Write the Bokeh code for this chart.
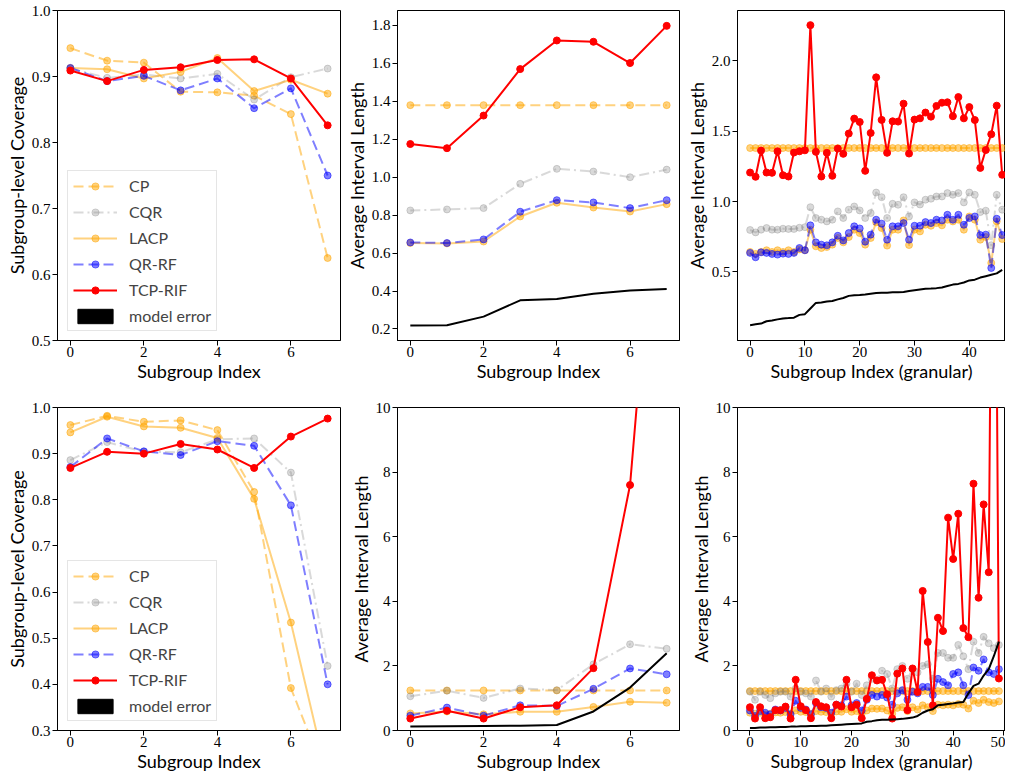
from bokeh.plotting import figure
from bokeh.models import Range1d, FixedTicker, Legend, LegendItem, PrintfTickFormatter
from bokeh.layouts import row, column
from bokeh.embed import file_html
from bokeh.resources import INLINE
from bokeh.core.properties import value

NAN = float("nan")

# ---------------- data ----------------
METHODS = ["CP", "CQR", "LACP", "QR-RF", "TCP-RIF"]
x_sub = [0, 1, 2, 3, 4, 5, 6, 7]

# top-left: subgroup-level coverage (dataset A)
covA_CP = [0.943, 0.924, 0.921, 0.877, 0.876, 0.871, 0.843, 0.625]
covA_CQR = [0.912, 0.898, 0.903, 0.897, 0.904, 0.865, 0.899, 0.912]
covA_LACP = [0.913, 0.911, 0.897, 0.907, 0.928, 0.878, 0.895, 0.874]
covA_QR = [0.913, 0.893, 0.901, 0.879, 0.897, 0.852, 0.882, 0.750]
covA_TCP = [0.909, 0.893, 0.910, 0.914, 0.925, 0.926, 0.897, 0.826]

# top-middle: average interval length (dataset A)
lenA_CP = [1.38, 1.38, 1.38, 1.38, 1.38, 1.38, 1.38, 1.38]
lenA_CQR = [0.825, 0.830, 0.837, 0.965, 1.044, 1.030, 1.000, 1.040]
lenA_LACP = [0.653, 0.651, 0.661, 0.793, 0.865, 0.840, 0.819, 0.858]
lenA_QR = [0.656, 0.653, 0.672, 0.818, 0.879, 0.867, 0.837, 0.879]
lenA_TCP = [1.175, 1.153, 1.325, 1.570, 1.721, 1.714, 1.602, 1.798]
lenA_ERR = [0.218, 0.219, 0.265, 0.351, 0.358, 0.386, 0.402, 0.411]

# top-right: granular subgroups (dataset A), 47 subgroups
x_granA = list(range(47))
granA_CP = [1.38, 1.38, 1.38, 1.38, 1.38, 1.38, 1.38, 1.38, 1.38, 1.38,
            1.38, 1.38, 1.38, 1.38, 1.38, 1.38, 1.38, 1.38, 1.38, 1.38,
            1.38, 1.38, 1.38, 1.38, 1.38, 1.38, 1.38, 1.38, 1.38, 1.38,
            1.38, 1.38, 1.38, 1.38, 1.38, 1.38, 1.38, 1.38, 1.38, 1.38,
            1.38, 1.38, 1.38, 1.38, 1.38, 1.38, 1.38]
granA_CQR = [0.798, 0.781, 0.800, 0.812, 0.800, 0.800, 0.807, 0.805, 0.805, 0.814,
             0.818, 0.960, 0.883, 0.871, 0.859, 0.871, 0.930, 0.883, 0.942, 0.965,
             0.937, 0.883, 0.918, 1.064, 1.031, 0.883, 0.984, 0.977, 1.031, 0.894,
             0.994, 0.979, 1.013, 1.020, 1.036, 1.036, 1.060, 1.048, 1.060, 0.994,
             1.064, 1.048, 0.925, 0.935, 0.690, 1.048, 0.942]
granA_LACP = [0.642, 0.628, 0.642, 0.654, 0.642, 0.654, 0.642, 0.654, 0.642, 0.660,
              0.654, 0.800, 0.682, 0.670, 0.677, 0.694, 0.741, 0.710, 0.748, 0.800,
              0.776, 0.694, 0.741, 0.852, 0.812, 0.687, 0.800, 0.800, 0.866, 0.691,
              0.800, 0.788, 0.835, 0.828, 0.847, 0.831, 0.871, 0.859, 0.871, 0.800,
              0.894, 0.871, 0.729, 0.748, 0.564, 0.859, 0.734]
granA_QR = [0.635, 0.604, 0.639, 0.635, 0.628, 0.623, 0.630, 0.628, 0.635, 0.670,
            0.654, 0.831, 0.710, 0.694, 0.689, 0.710, 0.757, 0.724, 0.776, 0.824,
            0.809, 0.715, 0.765, 0.871, 0.843, 0.729, 0.824, 0.824, 0.847, 0.729,
            0.828, 0.828, 0.854, 0.847, 0.871, 0.866, 0.906, 0.871, 0.906, 0.835,
            0.883, 0.894, 0.762, 0.765, 0.528, 0.878, 0.762]
granA_TCP = [1.206, 1.176, 1.362, 1.206, 1.204, 1.357, 1.187, 1.178, 1.348, 1.357,
             1.364, 2.253, 1.353, 1.178, 1.346, 1.183, 1.376, 1.339, 1.483, 1.589,
             1.565, 1.218, 1.487, 1.882, 1.580, 1.346, 1.570, 1.568, 1.695, 1.341,
             1.582, 1.591, 1.632, 1.603, 1.679, 1.702, 1.705, 1.606, 1.742, 1.591,
             1.671, 1.579, 1.239, 1.366, 1.478, 1.681, 1.190]
granA_ERR = [0.122, 0.128, 0.133, 0.150, 0.155, 0.163, 0.170, 0.172, 0.175, 0.195,
             0.200, 0.240, 0.280, 0.283, 0.290, 0.293, 0.305, 0.315, 0.330, 0.335,
             0.336, 0.340, 0.345, 0.350, 0.352, 0.353, 0.355, 0.356, 0.358, 0.365,
             0.370, 0.375, 0.380, 0.382, 0.385, 0.390, 0.400, 0.410, 0.415, 0.425,
             0.440, 0.445, 0.460, 0.470, 0.480, 0.490, 0.515]

# bottom-left: subgroup-level coverage (dataset B)
covB_CP = [0.962, 0.982, 0.969, 0.972, 0.951, 0.817, 0.392, 0.190]
covB_CQR = [0.886, 0.925, 0.904, 0.903, 0.931, 0.933, 0.859, 0.440]
covB_LACP = [0.946, 0.980, 0.959, 0.956, 0.934, 0.802, 0.534, 0.195]
covB_QR = [0.871, 0.933, 0.905, 0.897, 0.927, 0.917, 0.788, 0.400]
covB_TCP = [0.869, 0.904, 0.900, 0.921, 0.909, 0.869, 0.937, 0.976]

# bottom-middle: average interval length (dataset B)
lenB_CP = [1.24, 1.24, 1.24, 1.24, 1.24, 1.24, 1.24, 1.24]
lenB_CQR = [1.06, 1.23, 1.01, 1.30, 1.25, 2.05, 2.67, 2.53]
lenB_LACP = [0.53, 0.59, 0.50, 0.58, 0.58, 0.73, 0.89, 0.86]
lenB_QR = [0.46, 0.71, 0.46, 0.78, 0.76, 1.29, 1.92, 1.74]
lenB_TCP = [0.37, 0.61, 0.37, 0.72, 0.78, 1.93, 7.60, 21.0]
lenB_ERR = [0.12, 0.13, 0.14, 0.15, 0.17, 0.59, 1.33, 2.39]

# bottom-right: granular subgroups (dataset B), 50 subgroups
x_granB = list(range(50))
granB_CP = [1.22, 1.22, 1.22, 1.22, 1.22, 1.22, 1.22, 1.22, 1.22, 1.22,
            1.22, 1.22, 1.22, 1.22, 1.22, 1.22, 1.22, 1.22, 1.22, 1.22,
            1.22, 1.22, 1.22, 1.22, 1.22, 1.22, 1.22, 1.22, 1.22, 1.22,
            1.22, 1.22, 1.22, 1.22, 1.22, 1.22, 1.22, 1.22, 1.22, 1.22,
            1.22, 1.22, 1.22, 1.22, 1.22, 1.22, 1.22, 1.22, 1.22, 1.22]
granB_CQR = [1.20, 0.95, 1.20, 1.10, 1.00, 1.15, 1.20, 1.20, 1.05, 1.30,
             1.20, 1.15, 1.05, 1.55, 1.20, 1.30, 1.05, 1.25, 1.30, 1.45,
             1.20, 1.45, 1.10, 1.40, 1.60, 1.55, 1.85, 1.75, 1.30, 1.90,
             2.00, 1.60, 1.90, 1.80, 2.00, 2.05, 1.60, 2.40, 2.40, 2.25,
             2.25, 2.65, 2.30, 1.90, 2.75, 2.40, 2.90, 2.70, 2.55, 2.65]
granB_LACP = [0.55, 0.52, 0.55, 0.50, 0.52, 0.56, 0.55, 0.57, 0.53, 0.62,
              0.58, 0.57, 0.52, 0.60, 0.58, 0.57, 0.52, 0.59, 0.58, 0.66,
              0.58, 0.60, 0.52, 0.62, 0.68, 0.67, 0.68, 0.62, 0.52, 0.70,
              0.72, 0.60, 0.72, 0.65, 0.78, 0.72, 0.60, 0.80, 0.78, 0.80,
              0.78, 0.82, 0.80, 0.68, 0.92, 0.85, 0.95, 0.88, 0.85, 0.90]
granB_QR = [0.62, 0.45, 0.60, 0.55, 0.50, 0.65, 0.62, 0.70, 0.50, 0.92,
            0.70, 0.65, 0.50, 0.85, 0.72, 0.70, 0.55, 0.80, 0.78, 1.05,
            0.78, 0.85, 0.62, 0.95, 1.10, 1.05, 1.10, 1.02, 0.80, 1.15,
            1.25, 0.95, 1.20, 1.15, 1.35, 1.35, 1.10, 1.60, 1.50, 1.40,
            1.75, 1.80, 1.40, 1.10, 1.95, 1.85, 2.20, 1.80, 1.75, 1.90]
granB_TCP = [0.72, 0.37, 0.72, 0.38, 0.41, 0.63, 0.63, 0.74, 0.37, 1.57,
             0.75, 0.63, 0.38, 0.88, 0.75, 0.72, 0.38, 0.80, 0.74, 1.57,
             0.72, 0.80, 0.38, 0.98, 1.71, 1.55, 1.57, 1.12, 0.37, 1.76,
             1.92, 0.63, 1.92, 1.19, 4.32, 2.74, 0.78, 3.49, 3.08, 6.59,
             5.31, 6.71, 3.17, 2.89, 7.64, 4.11, 7.00, 4.90, 25.0, 1.61]
granB_ERR = [0.08, 0.08, 0.09, 0.09, 0.10, 0.10, 0.11, 0.11, 0.12, 0.12,
             0.13, 0.13, 0.14, 0.14, 0.15, 0.15, 0.16, 0.17, 0.18, 0.19,
             0.20, 0.21, 0.22, 0.27, 0.29, 0.32, 0.33, 0.33, 0.34, 0.35,
             0.36, 0.38, 0.40, 0.45, 0.55, 0.62, 0.66, 0.78, 0.80, 0.82,
             0.84, 0.87, 0.88, 1.15, 1.38, 1.45, 1.70, 1.90, 2.30, 2.75]

# ---------------- styles ----------------
COLORS = {"CP": "#FFA500", "CQR": "#808080", "LACP": "#FFA500", "QR-RF": "#0000FF", "TCP-RIF": "#FF0000"}
ALPHAS = {"CP": 0.5, "CQR": 0.3, "LACP": 0.5, "QR-RF": 0.5, "TCP-RIF": 1.0}
DASHES = {"CP": "10 5", "CQR": "10 4 2 4", "LACP": "solid", "QR-RF": "10 5", "TCP-RIF": "solid"}

TICK_FONT = "Liberation Serif"
LABEL_FONT = "Lato"


def make_fig(w, h, bl, br, bt, bb, xr, yr, xt, yt, xlabel, ylabel, yfmt):
    p = figure(width=w, height=h, x_range=Range1d(*xr), y_range=Range1d(*yr),
               output_backend="svg", toolbar_location=None, title=None,
               min_border_left=bl, min_border_right=br, min_border_top=bt, min_border_bottom=bb)
    p.grid.visible = False
    p.outline_line_color = "black"
    p.outline_line_width = 1
    p.outline_line_alpha = 1
    p.background_fill_color = "white"
    p.border_fill_color = "white"
    p.xaxis.ticker = FixedTicker(ticks=xt)
    p.yaxis.ticker = FixedTicker(ticks=yt)
    if yfmt:
        p.yaxis.formatter = PrintfTickFormatter(format=yfmt)
    for ax in (p.xaxis[0], p.yaxis[0]):
        ax.axis_line_color = "black"
        ax.major_tick_line_color = "black"
        ax.major_tick_out = 5
        ax.major_tick_in = 0
        ax.minor_tick_out = 0
        ax.minor_tick_in = 0
        ax.major_label_text_font = TICK_FONT
        ax.major_label_text_font_size = "15px"
        ax.major_label_text_color = "black"
        ax.axis_label_text_font = LABEL_FONT
        ax.axis_label_text_font_size = "18px"
        ax.axis_label_text_font_style = "normal"
        ax.axis_label_text_color = "black"
    p.xaxis.major_label_standoff = 1
    p.xaxis.axis_label_standoff = 0
    p.yaxis.major_label_standoff = 2
    p.yaxis.axis_label_standoff = 1
    p.xaxis.axis_label = xlabel
    p.yaxis.axis_label = ylabel
    return p


def draw(p, xs, series, err=None, legend=False):
    rends = {}
    for m in METHODS:
        ys = series[m]
        c, a = COLORS[m], ALPHAS[m]
        lr = p.line(xs, ys, line_color=c, line_alpha=a, line_width=2,
                    line_dash=DASHES[m], line_join="round")
        sr = p.scatter(xs, ys, marker="circle", size=7, fill_color=c, fill_alpha=a,
                       line_color=c, line_alpha=a)
        rends[m] = [lr, sr]
    if err is not None:
        p.line(xs, err, line_color="black", line_width=2, line_join="round")
    if legend:
        items = [LegendItem(label=value(m), renderers=rends[m]) for m in METHODS]
        # legend-only patch for "model error" (no visible geometry in this panel)
        er = p.quad(left=[NAN], right=[NAN], bottom=[NAN], top=[NAN],
                    fill_color="black", line_color="black")
        items.append(LegendItem(label=value("model error"), renderers=[er]))
        leg = Legend(items=items, location=(10, 9), orientation="vertical",
                     glyph_width=44, glyph_height=18, label_height=18, label_standoff=12,
                     spacing=7, padding=5, margin=0,
                     border_line_color="#cccccc", border_line_width=1,
                     background_fill_color="white", background_fill_alpha=0.8,
                     label_text_font=LABEL_FONT, label_text_font_size="16px")
        p.add_layout(leg)


XT8 = [0, 2, 4, 6]
XR8 = (-0.35, 7.35)

# row 1 (frames y 10..340)
f1 = make_fig(341, 387, 57, 1, 10, 47, XR8, (0.5, 1.0), XT8,
              [0.5, 0.6, 0.7, 0.8, 0.9, 1.0], "Subgroup Index", "Subgroup-level Coverage", "%.1f")
draw(f1, x_sub, {"CP": covA_CP, "CQR": covA_CQR, "LACP": covA_LACP, "QR-RF": covA_QR, "TCP-RIF": covA_TCP},
     legend=True)

f2 = make_fig(340, 387, 56, 2, 10, 47, XR8, (0.139, 1.879), XT8,
              [0.2, 0.4, 0.6, 0.8, 1.0, 1.2, 1.4, 1.6, 1.8], "Subgroup Index", "Average Interval Length", "%.1f")
draw(f2, x_sub, {"CP": lenA_CP, "CQR": lenA_CQR, "LACP": lenA_LACP, "QR-RF": lenA_QR, "TCP-RIF": lenA_TCP},
     err=lenA_ERR)

f3 = make_fig(324, 387, 56, 0, 10, 47, (-2.3, 46.6), (0.013, 2.357), [0, 10, 20, 30, 40],
              [0.5, 1.0, 1.5, 2.0], "Subgroup Index (granular)", "Average Interval Length", "%.1f")
draw(f3, x_granA, {"CP": granA_CP, "CQR": granA_CQR, "LACP": granA_LACP, "QR-RF": granA_QR, "TCP-RIF": granA_TCP},
     err=granA_ERR)

# row 2 (frames y 407..730)
f4 = make_fig(341, 389, 57, 1, 20, 46, XR8, (0.3, 1.0), XT8,
              [0.3, 0.4, 0.5, 0.6, 0.7, 0.8, 0.9, 1.0], "Subgroup Index", "Subgroup-level Coverage", "%.1f")
draw(f4, x_sub, {"CP": covB_CP, "CQR": covB_CQR, "LACP": covB_LACP, "QR-RF": covB_QR, "TCP-RIF": covB_TCP},
     legend=True)

f5 = make_fig(340, 389, 56, 2, 20, 46, XR8, (0, 10), XT8,
              [0, 2, 4, 6, 8, 10], "Subgroup Index", "Average Interval Length", None)
draw(f5, x_sub, {"CP": lenB_CP, "CQR": lenB_CQR, "LACP": lenB_LACP, "QR-RF": lenB_QR, "TCP-RIF": lenB_TCP},
     err=lenB_ERR)

f6 = make_fig(324, 389, 56, 0, 20, 46, (-2.45, 50.3), (0, 10), [0, 10, 20, 30, 40, 50],
              [0, 2, 4, 6, 8, 10], "Subgroup Index (granular)", "Average Interval Length", None)
draw(f6, x_granB, {"CP": granB_CP, "CQR": granB_CQR, "LACP": granB_LACP, "QR-RF": granB_QR, "TCP-RIF": granB_TCP},
     err=granB_ERR)

layout = column(row(f1, f2, f3, spacing=0), row(f4, f5, f6, spacing=0), spacing=0)
open("out.html", "w").write(file_html(layout, INLINE))
